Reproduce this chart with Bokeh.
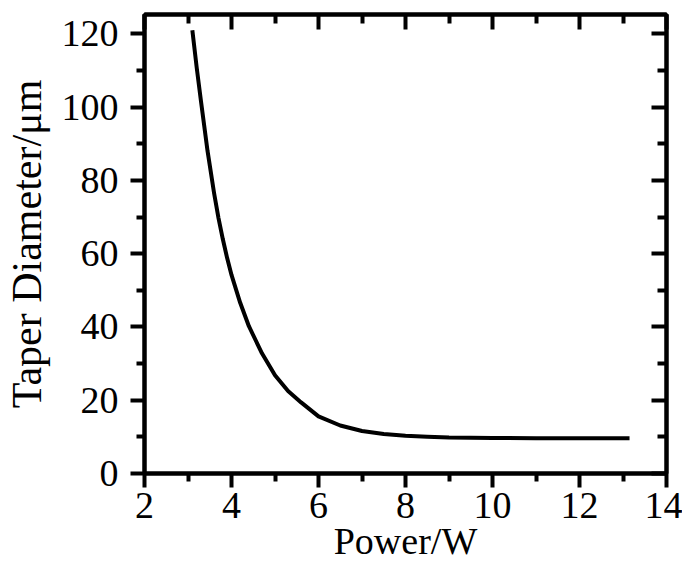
from bokeh.plotting import figure
from bokeh.models import FixedTicker, Range1d, LinearAxis
from bokeh.embed import file_html
from bokeh.resources import INLINE

# Data
power = [3.1, 3.2, 3.3, 3.45, 3.6, 3.7, 3.8, 3.9, 4.0, 4.2, 4.4, 4.7, 5.0, 5.3,
         5.6, 6.0, 6.5, 7.0, 7.5, 8.0, 8.5, 9.0, 10.0, 11.0, 12.0, 13.15]
diameter = [121.0, 110.8, 101.5, 88.0, 76.5, 69.8, 64.0, 58.8, 54.2, 46.6, 40.2,
            32.8, 26.8, 22.5, 19.4, 15.6, 13.1, 11.6, 10.8, 10.3, 10.0, 9.8,
            9.7, 9.6, 9.6, 9.6]

x_major = [2, 4, 6, 8, 10, 12, 14]
x_minor = [3, 5, 7, 9, 11, 13]
y_major = [0, 20, 40, 60, 80, 100, 120]
y_minor = [10, 30, 50, 70, 90, 110]

x_label = "Power/W"
y_label = "Taper Diameter/μm"

X_MIN, X_MAX = 2, 14
Y_MIN, Y_MAX = 0, 125.3

FONT = "Liberation Serif"

p = figure(width=682, height=577,
           x_range=Range1d(X_MIN, X_MAX), y_range=Range1d(Y_MIN, Y_MAX),
           output_backend="svg", toolbar_location=None,
           min_border_left=144, min_border_right=16,
           min_border_top=14, min_border_bottom=104)
p.xgrid.visible = False
p.ygrid.visible = False
p.outline_line_color = "black"
p.outline_line_width = 4
p.background_fill_color = "white"
p.border_fill_color = "white"

p.line(power, diameter, line_width=4, line_color="black", line_join="round")


def base_style(ax):
    ax.axis_line_width = 4
    ax.axis_line_color = "black"
    ax.major_tick_line_width = 4
    ax.minor_tick_line_width = 4
    ax.major_tick_line_color = "black"
    ax.minor_tick_line_color = "black"


for ax, ticks, minors in ((p.xaxis[0], x_major, x_minor),
                          (p.yaxis[0], y_major, y_minor)):
    ax.ticker = FixedTicker(ticks=ticks, minor_ticks=minors)
    base_style(ax)
    ax.major_tick_in = 0
    ax.major_tick_out = 14
    ax.minor_tick_in = 0
    ax.minor_tick_out = 8
    ax.major_label_text_font = FONT
    ax.major_label_text_font_size = "38px"
    ax.major_label_text_color = "black"
    ax.axis_label_text_font = FONT
    ax.axis_label_text_font_size = "38px"
    ax.axis_label_text_font_style = "normal"
    ax.axis_label_text_color = "black"

p.xaxis[0].axis_label = x_label
p.yaxis[0].axis_label = y_label
p.yaxis[0].axis_label_text_font_size = "42px"
p.xaxis[0].major_label_standoff = 5
p.xaxis[0].axis_label_standoff = -1
p.yaxis[0].major_label_standoff = 12
p.yaxis[0].axis_label_standoff = 9

# mirrored axes with inward ticks on top and right, no labels drawn
for side, ticks, minors in (("above", x_major, x_minor),
                            ("right", y_major, y_minor)):
    ax = LinearAxis(ticker=FixedTicker(ticks=ticks, minor_ticks=minors))
    base_style(ax)
    ax.major_tick_in = 15
    ax.major_tick_out = 0
    ax.minor_tick_in = 9
    ax.minor_tick_out = 0
    ax.major_label_text_font_size = "1px"
    ax.major_label_text_color = None
    ax.major_label_standoff = 0
    p.add_layout(ax, side)

open("out.html", "w").write(file_html(p, INLINE))
